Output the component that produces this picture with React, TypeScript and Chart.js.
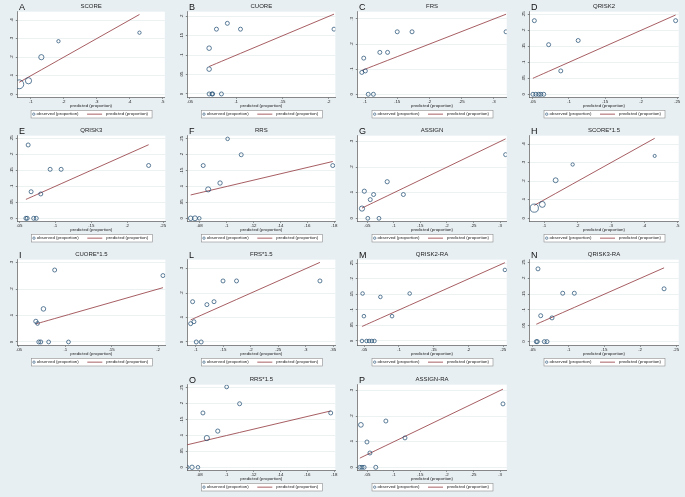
import React, { useEffect, useRef } from 'react';
import { Chart, registerables } from 'chart.js';

Chart.register(...registerables);

// ---------------- data ----------------
const panelLetters = ['A', 'B', 'C', 'D', 'E', 'F', 'G', 'H', 'I', 'L', 'M', 'N', 'O', 'P'];
const panelTitles = ['SCORE', 'CUORE', 'FRS', 'QRISK2', 'QRISK3', 'RRS', 'ASSIGN', 'SCORE*1.5', 'CUORE*1.5', 'FRS*1.5', 'QRISK2-RA', 'QRISK3-RA', 'RRS*1.5', 'ASSIGN-RA'];

const scorePred = [0.065, 0.093, 0.132, 0.184, 0.43];
const scoreObs = [0.054, 0.073, 0.2, 0.286, 0.332];
const scoreWt = [5, 2.4, 1.7, 0.7, 0.7];

const cuorePred = [0.0707, 0.0707, 0.0786, 0.0904, 0.1046, 0.2057, 0.0707, 0.0738, 0.0745, 0.084];
const cuoreObs = [0.118, 0.064, 0.167, 0.182, 0.167, 0.167, 0, 0, 0, 0];
const cuoreWt = [1.3, 1.3, 1, 1, 1, 1, 1, 1, 1, 1];

const frsPred = [0.15, 0.173, 0.319, 0.123, 0.135, 0.098, 0.1005, 0.095, 0.105, 0.113];
const frsObs = [0.249, 0.249, 0.249, 0.167, 0.167, 0.144, 0.093, 0.087, 0, 0];
const frsWt = [1, 1, 1, 1, 1, 1, 1, 1, 1, 1];

const qrisk2Pred = [0.052, 0.0718, 0.1127, 0.0886, 0.2477, 0.05, 0.054, 0.058, 0.061, 0.065];
const qrisk2Obs = [0.23, 0.155, 0.168, 0.073, 0.23, 0, 0, 0, 0, 0];
const qrisk2Wt = [1, 1, 1, 1, 1, 1, 1, 1, 1, 1];

const qrisk3Pred = [0.0621, 0.0662, 0.0797, 0.0927, 0.108, 0.2298, 0.059, 0.0608, 0.0698, 0.0734];
const qrisk3Obs = [0.229, 0.083, 0.076, 0.153, 0.153, 0.165, 0, 0, 0, 0];
const qrisk3Wt = [1, 1, 1, 1, 1, 1, 1, 1, 1, 1];

const rrsPred = [0.1008, 0.1109, 0.0827, 0.0952, 0.0864, 0.1788, 0.0734, 0.0766, 0.0798];
const rrsObs = [0.25, 0.2, 0.166, 0.111, 0.091, 0.166, 0, 0, 0];
const rrsWt = [0.8, 1, 1, 1.2, 1.6, 1, 1.3, 1.5, 0.8];

const assignPred = [0.04, 0.0444, 0.0556, 0.0619, 0.0875, 0.118, 0.3106, 0.051, 0.072];
const assignObs = [0.038, 0.106, 0.073, 0.093, 0.143, 0.093, 0.249, 0, 0];
const assignWt = [1.7, 1.1, 1, 1, 1.1, 1, 1, 0.9, 0.9];

const score15Pred = [0.07, 0.094, 0.134, 0.185, 0.431];
const score15Obs = [0.055, 0.075, 0.205, 0.29, 0.336];
const score15Wt = [4.2, 2.2, 1.5, 0.7, 0.6];

const cuore15Pred = [0.0885, 0.2053, 0.0764, 0.0682, 0.07, 0.0714, 0.0735, 0.082, 0.1034];
const cuore15Obs = [0.272, 0.251, 0.125, 0.078, 0.07, 0, 0, 0, 0];
const cuore15Wt = [1, 1, 1.3, 1.1, 0.9, 1, 1, 0.9, 0.9];

const frs15Pred = [0.1494, 0.174, 0.326, 0.094, 0.12, 0.133, 0.0964, 0.0904, 0.1006, 0.1096];
const frs15Obs = [0.25, 0.25, 0.25, 0.165, 0.153, 0.165, 0.083, 0.075, 0, 0];
const frs15Wt = [1, 1, 1, 1, 1, 1, 1, 1, 1, 1];

const qrisk2raPred = [0.0476, 0.0495, 0.0732, 0.09, 0.1154, 0.2524, 0.0467, 0.0533, 0.0571, 0.0609, 0.0647];
const qrisk2raObs = [0.153, 0.08, 0.142, 0.08, 0.153, 0.229, 0, 0, 0, 0, 0];
const qrisk2raWt = [0.8, 0.8, 0.8, 0.8, 0.8, 0.8, 0.8, 0.8, 0.8, 0.8, 0.8];

const qrisk3raPred = [0.0574, 0.0612, 0.077, 0.0919, 0.1081, 0.2333, 0.0551, 0.0565, 0.0663, 0.07];
const qrisk3raObs = [0.23, 0.082, 0.075, 0.153, 0.153, 0.167, 0, 0, 0, 0];
const qrisk3raWt = [1, 1, 1, 1, 1, 1, 1, 1, 1, 1];

const rrs15Pred = [0.1001, 0.1097, 0.0825, 0.0935, 0.0854, 0.1773, 0.0707, 0.0744, 0.0788];
const rrs15Obs = [0.253, 0.2, 0.171, 0.114, 0.092, 0.171, 0, 0, 0];
const rrs15Wt = [0.9, 1, 1, 1.1, 1.7, 1, 1, 1.2, 0.8];

const assignraPred = [0.038, 0.0494, 0.055, 0.085, 0.121, 0.3056, 0.036, 0.04, 0.044, 0.066];
const assignraObs = [0.166, 0.099, 0.056, 0.181, 0.115, 0.248, 0, 0, 0, 0];
const assignraWt = [1.4, 1, 1, 1, 1, 1, 1, 1, 1, 1];

// tick values
const xTicksScore = [0.1, 0.2, 0.3, 0.4, 0.5];
const yTicksScore = [0, 0.1, 0.2, 0.3, 0.4];
const xTicksCuore = [0.05, 0.1, 0.15, 0.2];
const yTicksCuore = [0, 0.05, 0.1, 0.15, 0.2];
const xTicksFrs = [0.1, 0.15, 0.2, 0.25, 0.3];
const yTicksTenths = [0, 0.1, 0.2, 0.3];
const xTicksQrisk = [0.05, 0.1, 0.15, 0.2, 0.25];
const yTicksQuarter = [0, 0.05, 0.1, 0.15, 0.2, 0.25];
const xTicksRrs = [0.08, 0.1, 0.12, 0.14, 0.16, 0.18];
const xTicksAssign = [0.05, 0.1, 0.15, 0.2, 0.25, 0.3];
const xTicksFrs15 = [0.1, 0.15, 0.2, 0.25, 0.3, 0.35];

// axis ranges [min, max]
const xRanges = [
  [0.059, 0.507], [0.0471, 0.2071], [0.088, 0.32], [0.045, 0.252],
  [0.047, 0.253], [0.0709, 0.1807], [0.0312, 0.3126], [0.055, 0.503],
  [0.0482, 0.2078], [0.0843, 0.354], [0.04, 0.255], [0.0453, 0.2537],
  [0.0709, 0.1807], [0.0312, 0.3126],
];
const yRanges = [
  [-0.016, 0.445], [-0.0086, 0.212], [-0.012, 0.329], [-0.0094, 0.258],
  [-0.0094, 0.258], [-0.0095, 0.26], [-0.0117, 0.323], [-0.016, 0.445],
  [-0.0126, 0.311], [-0.0136, 0.337], [-0.0139, 0.262], [-0.0116, 0.259],
  [-0.0095, 0.26], [-0.0117, 0.323],
];

const predSeries = [scorePred, cuorePred, frsPred, qrisk2Pred, qrisk3Pred, rrsPred, assignPred, score15Pred, cuore15Pred, frs15Pred, qrisk2raPred, qrisk3raPred, rrs15Pred, assignraPred];
const obsSeries = [scoreObs, cuoreObs, frsObs, qrisk2Obs, qrisk3Obs, rrsObs, assignObs, score15Obs, cuore15Obs, frs15Obs, qrisk2raObs, qrisk3raObs, rrs15Obs, assignraObs];
const wtSeries = [scoreWt, cuoreWt, frsWt, qrisk2Wt, qrisk3Wt, rrsWt, assignWt, score15Wt, cuore15Wt, frs15Wt, qrisk2raWt, qrisk3raWt, rrs15Wt, assignraWt];
const xTickSets = [xTicksScore, xTicksCuore, xTicksFrs, xTicksQrisk, xTicksQrisk, xTicksRrs, xTicksAssign, xTicksScore, xTicksCuore, xTicksFrs15, xTicksQrisk, xTicksQrisk, xTicksRrs, xTicksAssign];
const yTickSets = [yTicksScore, yTicksCuore, yTicksTenths, yTicksQuarter, yTicksQuarter, yTicksQuarter, yTicksTenths, yTicksScore, yTicksTenths, yTicksTenths, yTicksQuarter, yTicksQuarter, yTicksQuarter, yTicksTenths];

// ---------------- style / layout ----------------
const FONT_FAMILY = "'Liberation Sans', Arial, sans-serif";
const BG = '#e8eff2';
const NAVY = '#1a476f';
const MAROON = '#90353b';
const AXIS = '#3c3c3c';
const GRID = '#dfe7ea';
const TEXT = '#222222';
const SMALL = 4.4;
const PANEL_H = 124;
const COL_X = [0, 170, 340, 512];
const COL_W = [170, 170, 172, 173];
const ROW_Y = [0, 124, 248, 373];
const AREA_LEFT = 17.3;
const AREA_RIGHT = 166.7;
const AREA_BOTTOM = 97.3;
const X_AXIS_H = 12;

const fmt = (v: number) => {
  if (Math.abs(v) < 1e-9) return '0';
  return String(parseFloat(v.toFixed(3))).replace(/^0\./, '.').replace(/^-0\./, '-.');
};

function measureWidest(labels: string[], size: number) {
  const c = document.createElement('canvas').getContext('2d');
  if (!c) return 0;
  c.font = `${size}px ${FONT_FAMILY}`;
  return Math.max(...labels.map((l) => c.measureText(l).width));
}

const plotBgPlugin = {
  id: 'plotBg',
  afterLayout(chart: any) {
    // centre the title over the plot region, as in the reference
    const tb = chart.titleBlock;
    if (tb) {
      tb.left = chart.chartArea.left;
      tb.right = chart.chartArea.right;
    }
  },
  beforeDraw(chart: any) {
    const { ctx, chartArea } = chart;
    ctx.save();
    ctx.fillStyle = '#ffffff';
    ctx.fillRect(chartArea.left, chartArea.top, chartArea.right - chartArea.left, chartArea.bottom - chartArea.top);
    ctx.restore();
  },
};

const boxLegendPlugin = {
  id: 'boxLegend',
  afterDraw(chart: any) {
    const { ctx, chartArea } = chart;
    const ds = chart.data.datasets;
    const cx = (chartArea.left + chartArea.right) / 2;
    const top = 110.3;
    const bottom = 118;
    const my = (top + bottom) / 2;
    ctx.save();
    ctx.fillStyle = '#ffffff';
    ctx.fillRect(cx - 60, top, 121, bottom - top);
    ctx.strokeStyle = '#8c8c8c';
    ctx.lineWidth = 0.6;
    ctx.strokeRect(cx - 60, top, 121, bottom - top);
    ctx.beginPath();
    ctx.arc(cx - 57.3, my, 1.2, 0, Math.PI * 2);
    ctx.strokeStyle = NAVY;
    ctx.lineWidth = 0.6;
    ctx.stroke();
    ctx.font = `${SMALL}px ${FONT_FAMILY}`;
    ctx.fillStyle = TEXT;
    ctx.textBaseline = 'middle';
    ctx.textAlign = 'left';
    ctx.fillText(ds[0].label, cx - 54.5, my);
    ctx.beginPath();
    ctx.moveTo(cx - 4, my);
    ctx.lineTo(cx + 11, my);
    ctx.strokeStyle = MAROON;
    ctx.lineWidth = 0.8;
    ctx.stroke();
    ctx.fillText(ds[1].label, cx + 15, my);
    ctx.restore();
  },
};

function Panel({ idx, left, top, width }: { idx: number; left: number; top: number; width: number }) {
  const ref = useRef<HTMLCanvasElement>(null);
  useEffect(() => {
    if (!ref.current) return;
    const pred = predSeries[idx];
    const obs = obsSeries[idx];
    const wt = wtSeries[idx];
    const xTicks = xTickSets[idx];
    const yTicks = yTickSets[idx];
    const yLabels = yTicks.map(fmt);
    const widest = measureWidest(yLabels, SMALL);
    const yPad = 3.8 - widest / 2;
    const sortedPred = Array.from(new Set(pred)).sort((a, b) => a - b);
    const tickFont = { family: FONT_FAMILY, size: SMALL };

    const chart = new Chart(ref.current, {
      type: 'scatter',
      data: {
        datasets: [
          {
            label: 'observed (proportion)',
            data: pred.map((x, i) => ({ x, y: obs[i] })),
            pointStyle: 'circle',
            pointRadius: wt.map((w) => 2.0 * Math.sqrt(w)),
            pointBorderWidth: 0.7,
            borderColor: NAVY,
            backgroundColor: 'rgba(0,0,0,0)',
            showLine: false,
          },
          {
            label: 'predicted (proportion)',
            data: sortedPred.map((x) => ({ x, y: x })),
            showLine: true,
            pointRadius: 0,
            borderColor: MAROON,
            borderWidth: 0.8,
            backgroundColor: MAROON,
          },
        ],
      } as any,
      options: {
        animation: false,
        responsive: false,
        maintainAspectRatio: false,
        events: [],
        layout: {
          padding: {
            left: 0,
            right: width - AREA_RIGHT,
            top: 0,
            bottom: PANEL_H - AREA_BOTTOM - X_AXIS_H,
          },
        },
        plugins: {
          legend: { display: false },
          tooltip: { enabled: false },
          title: {
            display: true,
            text: panelTitles[idx],
            color: TEXT,
            font: { family: FONT_FAMILY, size: 6, weight: 'normal' },
            padding: { top: 3, bottom: 1.5 },
          },
        },
        scales: {
          x: {
            type: 'linear',
            min: xRanges[idx][0],
            max: xRanges[idx][1],
            afterBuildTicks: (s: any) => {
              s.ticks = xTicks.map((v) => ({ value: v }));
            },
            afterFit: (s: any) => {
              s.height = X_AXIS_H;
            },
            ticks: {
              font: tickFont,
              color: TEXT,
              padding: 0,
              autoSkip: false,
              maxRotation: 0,
              minRotation: 0,
              callback: (v: any) => fmt(Number(v)),
            },
            grid: { drawOnChartArea: false, drawTicks: true, tickLength: 1.5, tickColor: AXIS, tickWidth: 0.6 },
            border: { display: true, color: AXIS, width: 0.6 },
            title: {
              display: true,
              text: 'predicted (proportion)',
              color: TEXT,
              font: tickFont,
              padding: { top: 0, bottom: 0.7 },
            },
          },
          y: {
            type: 'linear',
            min: yRanges[idx][0],
            max: yRanges[idx][1],
            afterBuildTicks: (s: any) => {
              s.ticks = yTicks.map((v) => ({ value: v }));
            },
            afterFit: (s: any) => {
              s.width = AREA_LEFT;
            },
            ticks: {
              font: tickFont,
              color: TEXT,
              padding: yPad,
              autoSkip: false,
              minRotation: 90,
              maxRotation: 90,
              crossAlign: 'center',
              callback: (v: any) => fmt(Number(v)),
            },
            grid: { color: GRID, lineWidth: 0.6, drawTicks: true, tickLength: 1.5, tickColor: AXIS, tickWidth: 0.6 },
            border: { display: true, color: AXIS, width: 0.6 },
          },
        },
      } as any,
      plugins: [plotBgPlugin, boxLegendPlugin],
    });
    return () => chart.destroy();
  }, [idx, width]);

  return (
    <div style={{ position: 'absolute', left, top, width, height: PANEL_H }}>
      <canvas ref={ref} width={width} height={PANEL_H} style={{ display: 'block', width, height: PANEL_H }} />
      <div
        style={{
          position: 'absolute',
          left: 19,
          top: 3,
          fontFamily: FONT_FAMILY,
          fontSize: 9,
          lineHeight: '9px',
          color: '#111',
        }}
      >
        {panelLetters[idx]}
      </div>
    </div>
  );
}

export default function App() {
  const cells = panelLetters.map((_, i) => {
    let row: number;
    let col: number;
    if (i < 12) {
      row = Math.floor(i / 4);
      col = i % 4;
    } else {
      row = 3;
      col = i - 11;
    }
    return { i, left: COL_X[col], top: ROW_Y[row], width: COL_W[col] };
  });
  return (
    <div
      style={{
        position: 'fixed',
        left: 0,
        top: 0,
        width: 685,
        height: 497,
        background: BG,
        overflow: 'hidden',
      }}
    >
      {cells.map((c) => (
        <Panel key={c.i} idx={c.i} left={c.left} top={c.top} width={c.width} />
      ))}
    </div>
  );
}
